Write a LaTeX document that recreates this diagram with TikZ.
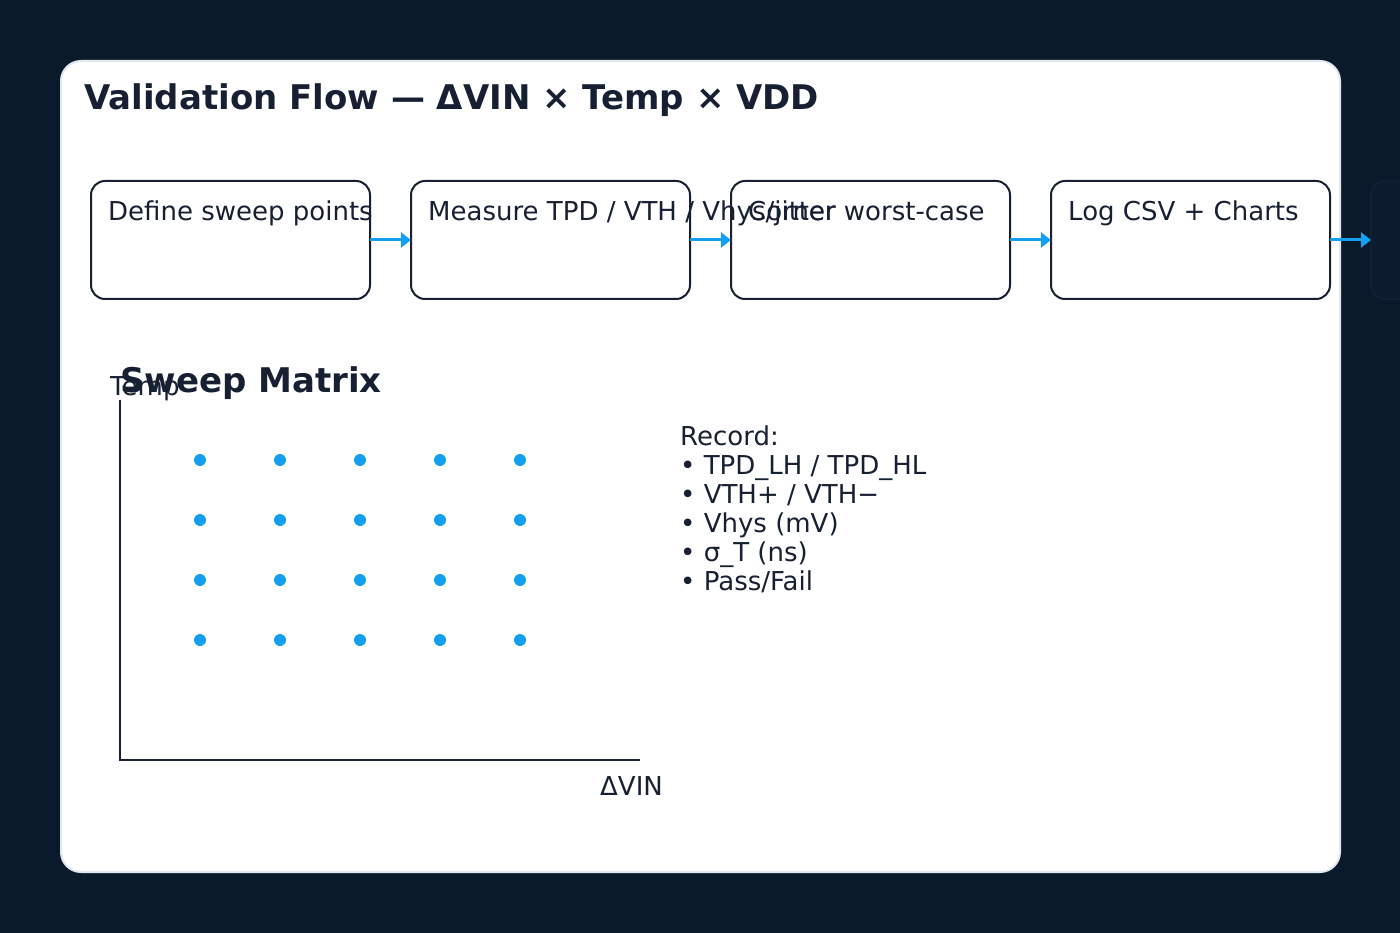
\documentclass[tikz,border=0pt]{standalone}
\usepackage{fontspec}
\setmainfont{DejaVu Sans}
\usetikzlibrary{arrows.meta,calc}
\definecolor{bg}{HTML}{0B1A2B}
\definecolor{ink}{HTML}{172033}
\definecolor{cardline}{HTML}{E2E8F0}
\definecolor{flowblue}{HTML}{14A0F0}
\definecolor{ghost}{HTML}{0C1C2E}
\definecolor{ghostline}{HTML}{112135}
\tikzset{
  stepbox/.style={draw=ink, line width=2pt, rounded corners=14pt, fill=white,
    minimum width=279pt, minimum height=118pt, inner sep=0pt, outer sep=0pt},
  ghostbox/.style={draw=ghostline, line width=2pt, rounded corners=14pt, fill=ghost,
    minimum width=279pt, minimum height=118pt, inner sep=0pt, outer sep=0pt},
  steptext/.style={anchor=base west, inner sep=0pt, text=ink, font=\fontsize{26}{30}\selectfont},
  flow/.style={draw=flowblue, line width=3pt, -{Triangle[length=10pt,width=15pt]}},
  dot/.style={circle, fill=flowblue, minimum size=12pt, inner sep=0pt},
  axis/.style={draw=ink, line width=2.5pt},
  rec/.style={anchor=base west, inner sep=0pt, text=ink, font=\fontsize{26}{30}\selectfont},
}
\begin{document}
\begin{tikzpicture}[x=1pt,y=-1pt]
\fill[bg] (0,0) rectangle (1400,933);
\useasboundingbox (0,0) rectangle (1400,933);
% card
\node[draw=cardline, line width=2pt, fill=white, rounded corners=20pt, inner sep=0pt,
  minimum width=1279pt, minimum height=811pt] (card) at (700.5,466.5) {};
\node[anchor=base west, inner sep=0pt, text=ink, font=\fontsize{34}{40}\selectfont\bfseries] (title) at (84,110) {Validation Flow — ΔVIN × Temp × VDD};
% step boxes
\node[stepbox] (b1) at (230.5,240) {};
\node[stepbox] (b2) at (550.5,240) {};
\node[stepbox] (b3) at (870.5,240) {};
\node[stepbox] (b4) at (1190.5,240) {};
\node[ghostbox] (b5) at (1510.5,240) {};
\node[steptext] (t1) at ($(b1.north west)+(17,40)$) {Define sweep points};
\node[steptext] (t2) at ($(b2.north west)+(17,40)$) {Measure TPD / VTH / Vhys/jitter};
\node[steptext] (t3) at ($(b3.north west)+(17,40)$) {Corner worst-case};
\node[steptext] (t4) at ($(b4.north west)+(17,40)$) {Log CSV + Charts};
\draw[flow] (b1.east) -- (b2.west);
\draw[flow] (b2.east) -- (b3.west);
\draw[flow] (b3.east) -- (b4.west);
\draw[flow] (b4.east) -- (b5.west);
% sweep matrix
\coordinate (ytop) at (120,400);
\coordinate (origin) at (120,760);
\coordinate (xend) at (640,760);
\draw[axis] (ytop) -- (origin) -- (xend);
\node[anchor=base west, inner sep=0pt, text=ink, font=\fontsize{26}{30}\selectfont] (ylab) at (110,395) {Temp};
\node[anchor=base west, inner sep=0pt, text=ink, font=\fontsize{34}{40}\selectfont\bfseries] (smtitle) at (120,392) {Sweep Matrix};
\node[anchor=base west, inner sep=0pt, text=ink, font=\fontsize{26}{30}\selectfont] (xlab) at (600,795) {ΔVIN};
\foreach \i/\x in {1/200,2/280,3/360,4/440,5/520}{
  \foreach \j/\y in {1/460,2/520,3/580,4/640}{
    \node[dot] (d\i\j) at (\x,\y) {};
  }
}
% record list
\node[rec] (r0) at (680,445) {Record:};
\node[rec] (r1) at (680,474) {• TPD\_LH / TPD\_HL};
\node[rec] (r2) at (680,503) {• VTH+ / VTH−};
\node[rec] (r3) at (680,532) {• Vhys (mV)};
\node[rec] (r4) at (680,561) {• σ\_T (ns)};
\node[rec] (r5) at (680,590) {• Pass/Fail};
\end{tikzpicture}
\end{document}
